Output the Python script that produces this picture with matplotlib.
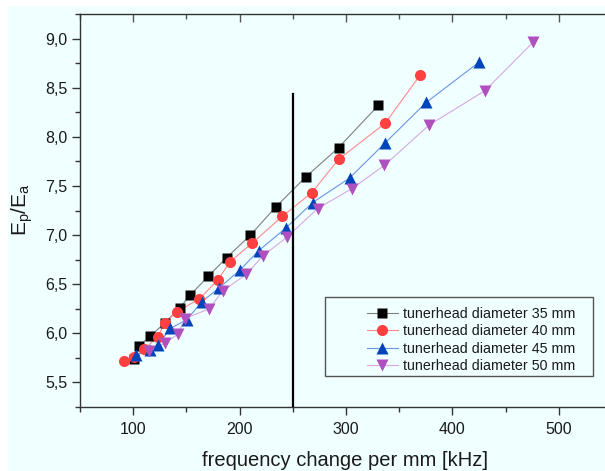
import numpy as np
import matplotlib.pyplot as plt
from matplotlib.ticker import MultipleLocator, FuncFormatter
from matplotlib.patches import Rectangle

plt.rcParams['font.family'] = ['Liberation Sans', 'DejaVu Sans']

# tunerhead diameter 35 mm
x35 = [101.2, 105.0, 116.2, 130.0, 143.7, 153.7, 170.5, 187.8, 210.2, 234.3, 262.1, 293.0, 330.4]
y35 = [5.735, 5.87, 5.97, 6.11, 6.26, 6.39, 6.58, 6.77, 7.00, 7.29, 7.59, 7.89, 8.32]
# tunerhead diameter 40 mm
x40 = [91.8, 101.2, 110.6, 123.1, 130.0, 141.2, 162.1, 179.3, 191.2, 212.1, 240.1, 267.7, 293.0, 337.0, 369.8]
y40 = [5.72, 5.76, 5.84, 5.965, 6.11, 6.22, 6.35, 6.54, 6.73, 6.92, 7.19, 7.43, 7.77, 8.14, 8.63]
# tunerhead diameter 45 mm
x45 = [102.8, 116.2, 123.1, 135.0, 150.6, 164.3, 180.5, 200.0, 217.8, 243.3, 268.6, 303.3, 337.0, 375.4, 425.1]
y45 = [5.78, 5.83, 5.88, 6.05, 6.14, 6.32, 6.46, 6.64, 6.84, 7.07, 7.33, 7.58, 7.94, 8.35, 8.76]
# tunerhead diameter 50 mm
x50 = [115.3, 130.0, 141.9, 148.7, 171.5, 184.0, 206.1, 222.1, 244.6, 273.3, 305.2, 336.1, 378.2, 430.6, 475.6]
y50 = [5.82, 5.90, 5.99, 6.15, 6.25, 6.43, 6.60, 6.79, 6.98, 7.27, 7.47, 7.71, 8.12, 8.47, 8.96]

labels = ['tunerhead diameter 35 mm', 'tunerhead diameter 40 mm',
          'tunerhead diameter 45 mm', 'tunerhead diameter 50 mm']

vline_x = 250
vline_top = 8.44

bg = '#F0FFFF'
W, H = 605, 471

fig = plt.figure(figsize=(W / 100, H / 100), dpi=100, facecolor='white')
fig.patches.append(Rectangle((8 / W, 0), 1, (H - 6) / H, transform=fig.transFigure,
                             facecolor=bg, edgecolor='none', zorder=-10))

ax = fig.add_axes([80 / W, (H - 407) / H, (612 - 80) / W, (407 - 14) / H])
ax.set_facecolor(bg)

series = [
    (x35, y35, 's', '#000000', '#808080', 7),
    (x40, y40, 'o', '#FF4040', '#FF8A8A', 8),
    (x45, y45, '^', '#0044BB', '#6A96E0', 8.5),
    (x50, y50, 'v', '#B050C0', '#D6A8E2', 8.5),
]
handles = []
for (xs, ys, m, c, lc, ms), lab in zip(series, labels):
    ax.plot(xs, ys, color=lc, lw=0.8, zorder=2)
    ax.plot(xs, ys, linestyle='none', marker=m, color=c, ms=ms, mec='none', zorder=3)
    h, = ax.plot([], [], color=lc, lw=0.8, marker=m, mfc=c, mec='none', ms=ms)
    handles.append(h)

ax.plot([vline_x, vline_x], [5.25, vline_top], color='black', lw=1.6, zorder=4)

ax.set_xlim(50, 550)
ax.set_ylim(5.25, 9.25)
ax.xaxis.set_major_locator(MultipleLocator(100))
ax.xaxis.set_minor_locator(MultipleLocator(50))
ax.yaxis.set_major_locator(MultipleLocator(0.5))
ax.yaxis.set_minor_locator(MultipleLocator(0.25))
ax.yaxis.set_major_formatter(FuncFormatter(lambda v, p: f'{v:.1f}'.replace('.', ',')))

for s in ['left', 'bottom', 'top']:
    ax.spines[s].set_color('#333333')
    ax.spines[s].set_linewidth(1.0)
ax.spines['right'].set_visible(False)

ax.tick_params(which='both', direction='out', colors='#333333', labelcolor='#1a1a1a',
               labelsize=11.5, width=1.0)
ax.tick_params(which='major', length=6)
ax.tick_params(which='minor', length=3.5)
ax.tick_params(axis='x', pad=5)
ax.tick_params(axis='y', pad=3)

top = ax.secondary_xaxis('top')
top.xaxis.set_major_locator(MultipleLocator(100))
top.xaxis.set_minor_locator(MultipleLocator(50))
top.tick_params(which='both', direction='in', labeltop=False, colors='#555555', width=1.0)
top.tick_params(which='major', length=6)
top.tick_params(which='minor', length=3.5)
top.spines['top'].set_visible(False)

fig.text(345 / W, 1 - 460 / H, 'frequency change per mm [kHz]', ha='center', va='center',
         fontsize=14.5, color='#1a1a1a')
fig.text(22 / W, 1 - 210 / H, r'E$_\mathregular{p}$/E$_\mathregular{a}$', ha='center',
         va='center', rotation=90, fontsize=15, color='#1a1a1a')

# legend frame drawn separately (wide empty left margin)
ax.add_patch(Rectangle((325 / W, 1 - 376 / H), (593 - 325) / W, (376 - 297) / H,
                       transform=fig.transFigure, facecolor=bg, clip_on=False,
                       edgecolor='#555555', lw=1.0, zorder=5))
leg = ax.legend(handles, labels, loc='upper left', bbox_to_anchor=(367 / W, 1 - 307 / H),
                bbox_transform=fig.transFigure, frameon=False, fontsize=10.3,
                borderpad=0, borderaxespad=0, handlelength=2.15, handletextpad=0.35,
                labelspacing=0.24)
leg.set_zorder(6)
for t in leg.get_texts():
    t.set_color('#1a1a1a')

fig.savefig('out.png', dpi=100, facecolor='white')
